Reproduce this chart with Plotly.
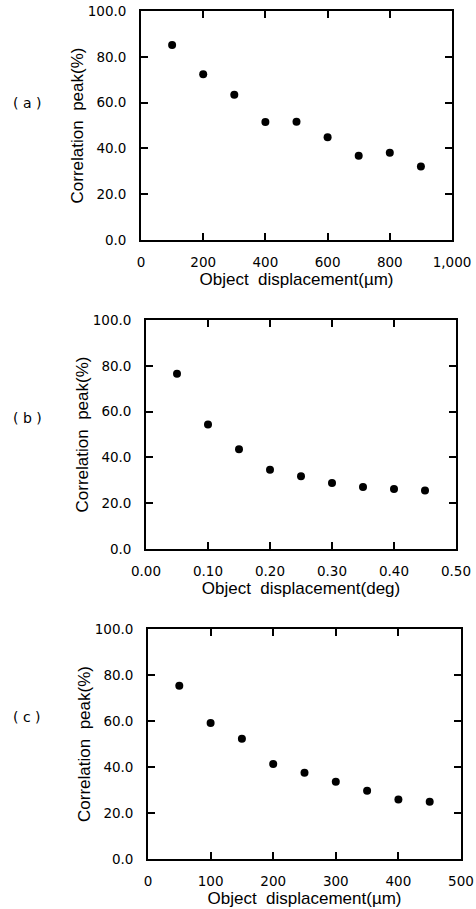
import plotly.graph_objects as go

# Data
xa = [100, 200, 300, 400, 500, 600, 700, 800, 900]
ya = [85.2, 72.4, 63.4, 51.5, 51.6, 44.9, 36.8, 38.1, 32.1]
xb = [0.05, 0.10, 0.15, 0.20, 0.25, 0.30, 0.35, 0.40, 0.45]
yb = [76.5, 54.4, 43.6, 34.6, 31.8, 28.8, 27.1, 26.2, 25.5]
xc = [50, 100, 150, 200, 250, 300, 350, 400, 450]
yc = [75.3, 59.1, 52.3, 41.3, 37.5, 33.6, 29.7, 25.9, 24.9]

y_ticks = [0, 20, 40, 60, 80, 100]
y_ticktext = ["0.0", "20.0", "40.0", "60.0", "80.0", "100.0"]
xa_ticks = [0, 200, 400, 600, 800, 1000]
xa_ticktext = ["0", "200", "400", "600", "800", "1,000"]
xb_ticks = [0, 0.1, 0.2, 0.3, 0.4, 0.5]
xb_ticktext = ["0.00", "0.10", "0.20", "0.30", "0.40", "0.50"]
xc_ticks = [0, 100, 200, 300, 400, 500]
xc_ticktext = ["0", "100", "200", "300", "400", "500"]

panel_labels = ["( a )", "( b )", "( c )"]
x_titles = ["Object  displacement(µm)", "Object  displacement(deg)", "Object  displacement(µm)"]
y_title = "Correlation  peak(%)"

W, H = 476, 909
# pixel boxes: left, right, top, bottom
boxes = [(141, 452, 11, 240), (146, 456, 320, 549), (148, 461, 629, 859)]
label_y = [103, 418, 717]

fig = go.Figure()
tickfont = dict(family="DejaVu Sans", size=13.5, color="black")
titlefont = dict(family="Liberation Sans, Arial", size=17, color="black")

panels = [(xa, ya, xa_ticks, xa_ticktext, [0, 1000]),
          (xb, yb, xb_ticks, xb_ticktext, [0, 0.5]),
          (xc, yc, xc_ticks, xc_ticktext, [0, 500])]

layout = {}
for i, (xs, ys, xt, xtt, xr) in enumerate(panels):
    n = "" if i == 0 else str(i + 1)
    l, r, t, b = boxes[i]
    fig.add_trace(go.Scatter(x=xs, y=ys, mode="markers",
                             marker=dict(color="black", size=8),
                             xaxis="x" + n, yaxis="y" + n, showlegend=False))
    common = dict(showline=True, linecolor="black", linewidth=1.7, mirror="ticks",
                  ticks="inside", ticklen=7, tickwidth=1.7, tickcolor="black",
                  showgrid=False, zeroline=False, tickfont=tickfont, automargin=False)
    layout["xaxis" + n] = dict(common, domain=[l / W, r / W], range=xr,
                               tickvals=xt, ticktext=xtt, anchor="y" + n,
                               ticklabelstandoff=9,
                               title=dict(text=x_titles[i], font=titlefont, standoff=2))
    layout["yaxis" + n] = dict(common, domain=[1 - b / H, 1 - t / H], range=[0, 100],
                               tickvals=y_ticks, ticktext=y_ticktext, anchor="x" + n,
                               ticklabelstandoff=10,
                               title=dict(text=y_title, font=titlefont, standoff=0))
    fig.add_annotation(x=27 / W, y=1 - label_y[i] / H, xref="paper", yref="paper",
                       xanchor="center", yanchor="middle",
                       text=panel_labels[i], showarrow=False,
                       font=dict(family="DejaVu Sans", size=14, color="black"))

fig.update_layout(width=W, height=H, margin=dict(l=0, r=0, t=0, b=0, autoexpand=False),
                  paper_bgcolor="white", plot_bgcolor="white", **layout)
fig.write_html("out.html")
